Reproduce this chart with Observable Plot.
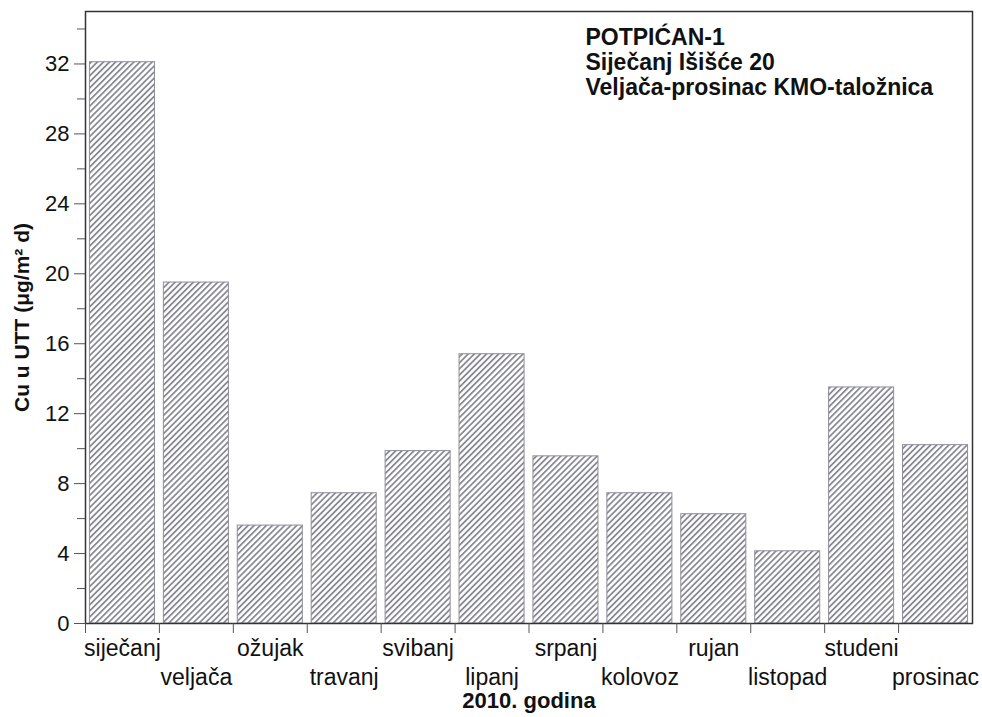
<!DOCTYPE html>
<html>
<head>
<meta charset="utf-8">
<script src="https://cdn.jsdelivr.net/npm/d3@7"></script>
<script src="https://cdn.jsdelivr.net/npm/@observablehq/plot@0.6"></script>
<style>
  html, body { margin: 0; padding: 0; background: #fff; }
  svg { display: block; }
</style>
</head>
<body>
<div id="chart"></div>
<script>
const months = ["siječanj","veljača","ožujak","travanj","svibanj","lipanj","srpanj","kolovoz","rujan","listopad","studeni","prosinac"];
const values = [32.1, 19.5, 5.6, 7.45, 9.86, 15.4, 9.56, 7.45, 6.25, 4.13, 13.5, 10.2];
const yMajorTicks = [0, 4, 8, 12, 16, 20, 24, 28, 32];
const yMinorTicks = [2, 6, 10, 14, 18, 22, 26, 30, 34];
const titleLines = ["POTPIĆAN-1", "Siječanj Išišće 20", "Veljača-prosinac KMO-taložnica"];
const yLabel = "Cu u UTT (μg/m² d)";
const xLabel = "2010. godina";

const data = months.map((m, i) => ({month: m, value: values[i]}));
const row1 = months.filter((m, i) => i % 2 === 0);
const row2 = months.filter((m, i) => i % 2 === 1);

const width = 982, height = 717;
const marginLeft = 85, marginRight = 10, marginTop = 11, marginBottom = 94;
const step = (width - marginLeft - marginRight) / months.length;

const chart = Plot.plot({
  width, height, marginLeft, marginRight, marginTop, marginBottom,
  style: {fontFamily: "'Liberation Sans', Arial, sans-serif", fontSize: "22px", color: "#111", background: "#fff"},
  x: {domain: months, paddingInner: 0.12, paddingOuter: 0.06, round: false, axis: null},
  y: {domain: [0, 35], axis: null},
  marks: [
    Plot.barY(data, {x: "month", y: "value", fill: "url(#hatch)", stroke: "#8e8e98", strokeWidth: 1}),
    Plot.frame({stroke: "#333", strokeWidth: 1.5}),
    Plot.axisY({ticks: yMajorTicks, tickSize: 11, tickPadding: 5, stroke: "#555", fontSize: 22, label: null}),
    Plot.axisY({ticks: yMinorTicks, tickSize: 8, tickFormat: () => "", stroke: "#555", label: null}),
    Plot.axisX({ticks: months, tickSize: 10, tickFormat: () => "", dx: -step / 2, stroke: "#555", label: null}),
    Plot.axisX({ticks: row1, tickSize: 0, tickPadding: 16, fontSize: 23, label: null}),
    Plot.axisX({ticks: row2, tickSize: 0, tickPadding: 45, fontSize: 23, label: null}),
    Plot.text([yLabel], {frameAnchor: "left", textAnchor: "middle", rotate: -90, dx: -63, fontWeight: "bold", fontSize: 21, fill: "#111"}),
    Plot.text([xLabel], {frameAnchor: "bottom", lineAnchor: "top", dy: 69, fontWeight: "bold", fontSize: 22, fill: "#111"}),
    Plot.text([titleLines.join("\n")], {frameAnchor: "top-left", textAnchor: "start", lineAnchor: "top", dx: 500, dy: 16, lineHeight: 1.09, fontWeight: "bold", fontSize: 23, fill: "#111"})
  ]
});

const svg = d3.select(chart);
const defs = svg.insert("defs", ":first-child");
const pat = defs.append("pattern")
  .attr("id", "hatch")
  .attr("patternUnits", "userSpaceOnUse")
  .attr("width", 4.3)
  .attr("height", 10)
  .attr("patternTransform", "rotate(45)");
pat.append("rect").attr("width", 4.3).attr("height", 10).attr("fill", "#fff");
pat.append("rect").attr("width", 1.8).attr("height", 10).attr("fill", "#8a8a94");

document.getElementById("chart").appendChild(chart);
</script>
</body>
</html>
